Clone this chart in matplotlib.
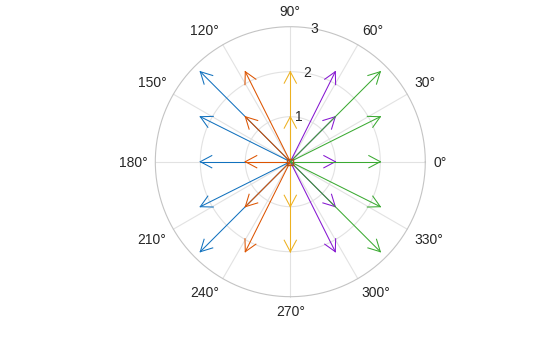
import numpy as np
import matplotlib
matplotlib.use("Agg")
import matplotlib.pyplot as plt

# Data: columns of Z = X + iY, X, Y from meshgrid(-2:2); one series per column
x_values = [-2, -1, 0, 1, 2]
y_values = [-2, -1, 0, 1, 2]
series_colors = ["#1171BE", "#DD5400", "#EDB120", "#8516D1", "#3BAA32"]
ring_values = [1, 2, 3]
angle_ticks = [0, 30, 60, 90, 120, 150, 180, 210, 240, 270, 300, 330]

W, H, DPI = 560, 337, 100
fig = plt.figure(figsize=(W / DPI, H / DPI), dpi=DPI)
ax = fig.add_axes([0, 0, 1, 1])
ppu = 45.0  # pixels per data unit
cx, cy = 290.3, 337 - 161.7
ax.set_xlim(-cx / ppu, (W - cx) / ppu)
ax.set_ylim(-cy / ppu, (H - cy) / ppu)
ax.axis("off")

rmax = max(ring_values)
th = np.linspace(0, 2 * np.pi, 400)
# grid
for a in angle_ticks:
    t = np.deg2rad(a)
    ax.plot([0, rmax * np.cos(t)], [0, rmax * np.sin(t)], color="#E2E2E2", lw=0.8, zorder=1)
for r in ring_values:
    col = "#C4C4C4" if r == rmax else "#E2E2E2"
    ax.plot(r * np.cos(th), r * np.sin(th), color=col, lw=0.8, zorder=1)

# angle labels
rl = 143 / ppu
for a in angle_ticks:
    t = np.deg2rad(a)
    c, s = np.cos(t), np.sin(t)
    ha = "left" if c > 0.01 else ("right" if c < -0.01 else "center")
    va = "bottom" if s > 0.01 else ("top" if s < -0.01 else "center")
    dy = -1.5 / ppu if va == "center" else 0.0
    ax.text(rl * c, rl * s + dy, f"{a}°", ha=ha, va=va, fontsize=10,
            family="Liberation Sans", color="#262626")
# radial labels
for r in ring_values:
    t = np.deg2rad(80)
    ax.text(r * np.cos(t) + 0.02, r * np.sin(t), str(r), ha="center", va="center",
            fontsize=10, family="Liberation Sans", color="#262626", zorder=5)

# arrows
head_len = 13 / ppu
head_ang = np.deg2rad(28)
lw = 0.75
for xv, col in zip(x_values, series_colors):
    for yv in y_values:
        L = np.hypot(xv, yv)
        if L == 0:
            ax.plot([0], [0], marker="s", ms=5, mfc="none", mec="#B0501A", mew=1.0, zorder=4)
            continue
        ang = np.arctan2(yv, xv)
        ax.plot([0, xv], [0, yv], color=col, lw=lw, zorder=3, solid_capstyle="butt")
        back = ang + np.pi
        for sgn in (1, -1):
            hx = xv + head_len * np.cos(back + sgn * head_ang)
            hy = yv + head_len * np.sin(back + sgn * head_ang)
            ax.plot([xv, hx], [yv, hy], color=col, lw=lw, zorder=3)

fig.savefig("out.png", dpi=DPI)
